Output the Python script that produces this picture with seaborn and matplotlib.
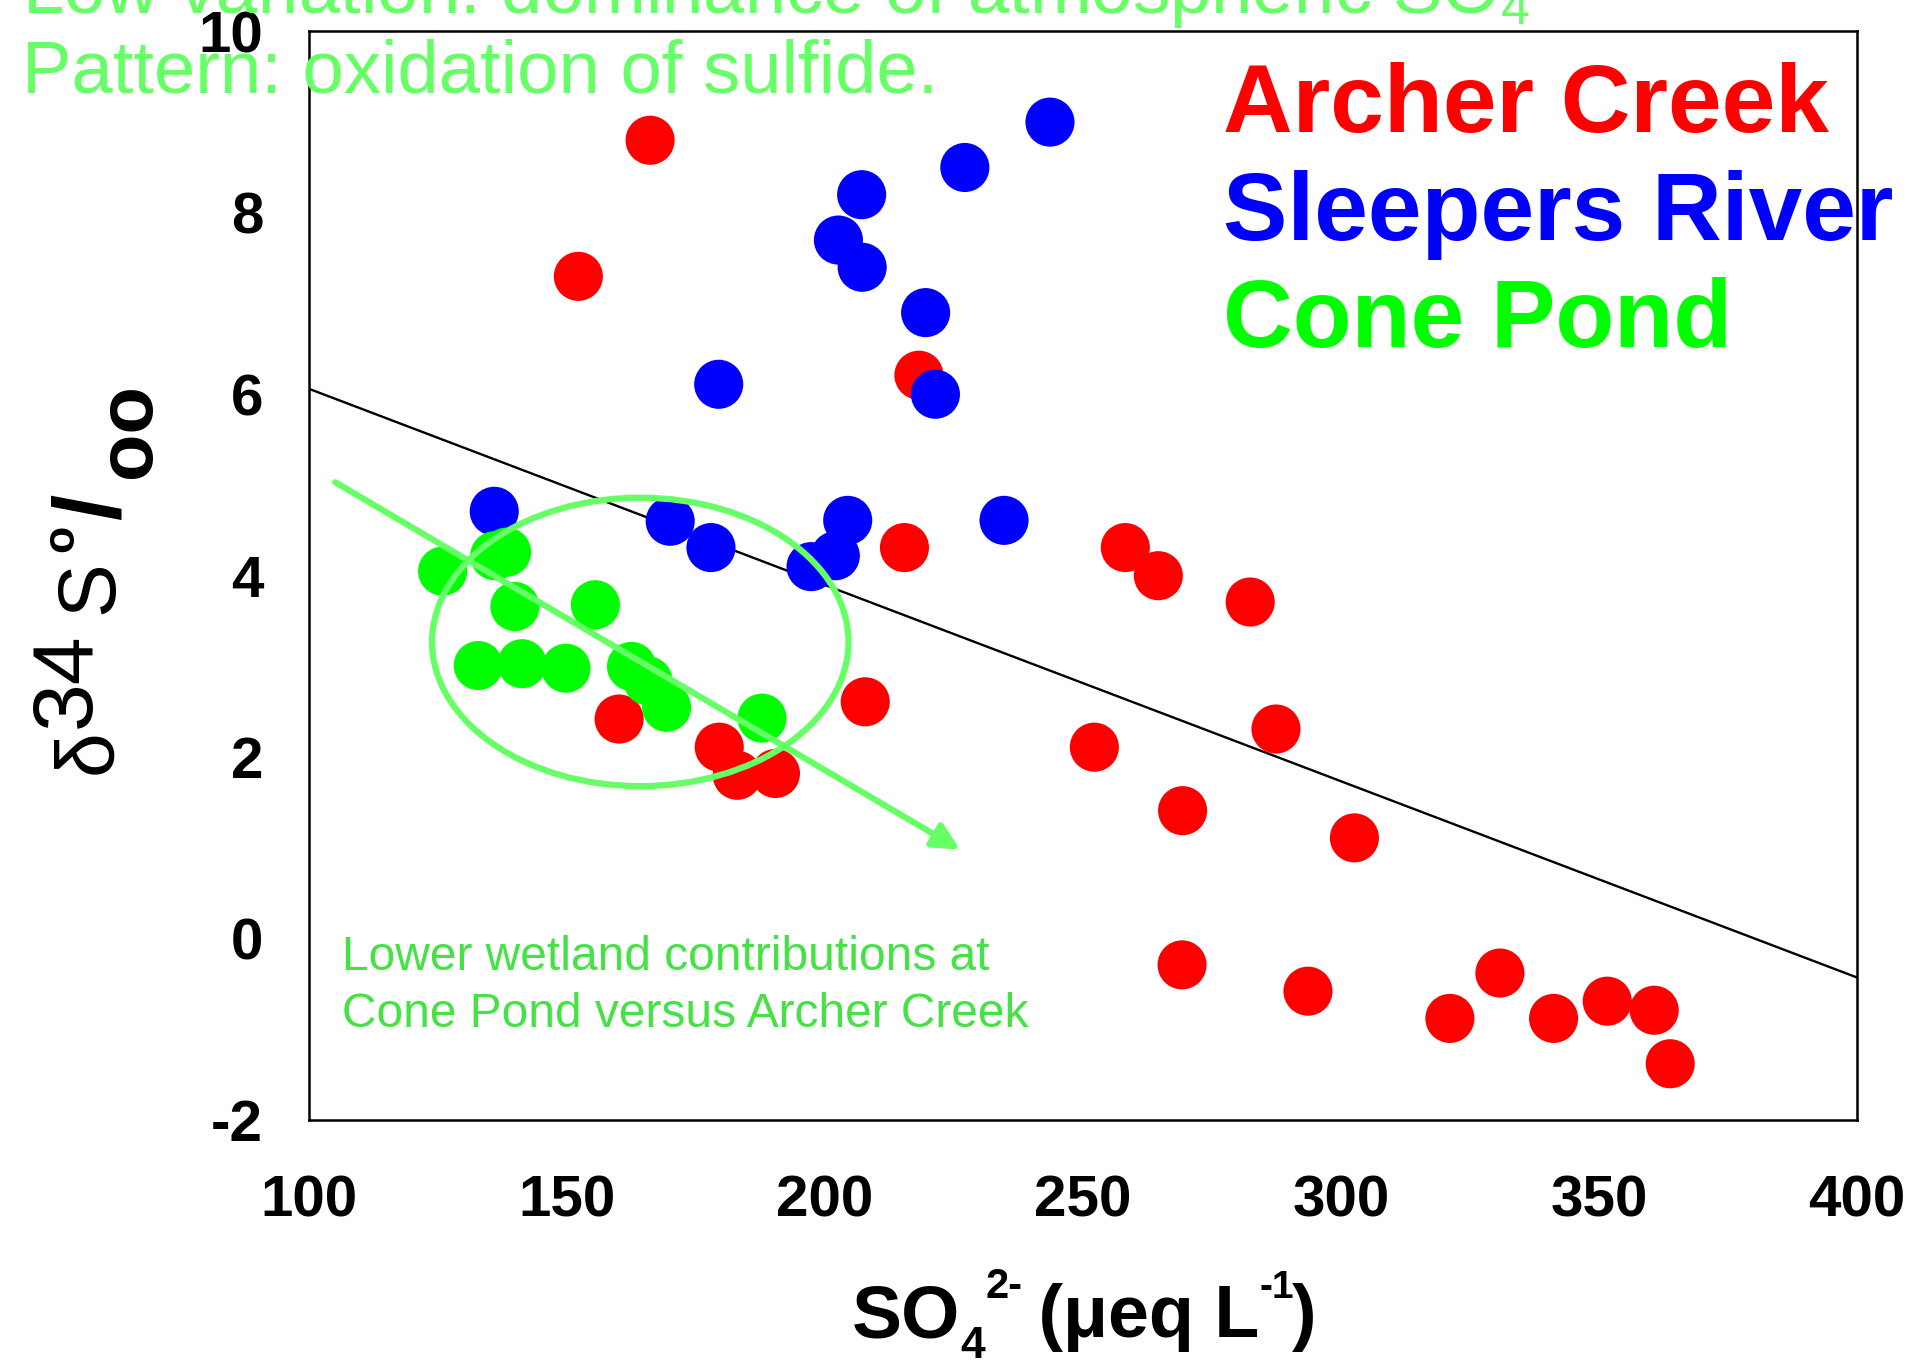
import matplotlib
matplotlib.use("Agg")
import matplotlib.pyplot as plt
from matplotlib.patches import Ellipse
import numpy as np
import pandas as pd
import seaborn as sns

# Stream sulfate concentration (ueq/L) and sulfur isotope ratio (per mil)
archer_so4 = [166.1, 152.2, 218.2, 215.4, 258.2, 264.6, 282.4, 207.8, 160.1, 179.5,
              183.0, 190.4, 252.2, 287.4, 269.3, 302.6, 269.2, 293.6, 321.1, 330.8,
              341.2, 351.6, 360.7, 363.8]
archer_d34s = [8.80, 7.30, 6.21, 4.31, 4.31, 4.00, 3.71, 2.61, 2.42, 2.11,
               1.80, 1.82, 2.11, 2.31, 1.41, 1.11, -0.29, -0.58, -0.88, -0.38,
               -0.88, -0.69, -0.79, -1.38]

sleepers_so4 = [243.6, 227.1, 207.1, 202.6, 207.2, 219.5, 179.4, 221.4, 135.9, 170.0,
                177.9, 204.4, 202.0, 197.3, 234.7]
sleepers_d34s = [9.00, 8.50, 8.20, 7.70, 7.40, 6.90, 6.11, 6.00, 4.71, 4.60,
                 4.31, 4.61, 4.22, 4.10, 4.61]

cone_so4 = [125.9, 136.0, 138.3, 139.9, 155.5, 132.8, 141.3, 149.8, 162.5, 165.7,
            169.3, 187.8]
cone_d34s = [4.05, 4.22, 4.26, 3.66, 3.68, 3.01, 3.03, 2.98, 3.00, 2.84,
             2.55, 2.43]

site_names = ["Archer Creek", "Sleepers River", "Cone Pond"]
site_colors = ["#ff0000", "#0000ff", "#00ff00"]

x_ticks = [100, 150, 200, 250, 300, 350, 400]
y_ticks = [-2, 0, 2, 4, 6, 8, 10]

# Overall trend line
trend_slope = -0.02163
trend_intercept = 8.223

# Highlighted Cone Pond cluster and the sulfide-oxidation direction
cluster_center = (164.2, 3.27)
cluster_width = 80.7
cluster_height = 3.18
pattern_start = (105.1, 5.03)
pattern_end = (226.2, 0.98)

ANNOT_GREEN = "#66ff66"
NOTE_GREEN = "#44e244"
FONT = "Liberation Sans"

sns.set_style("white")
plt.rcParams["font.family"] = [FONT, "DejaVu Sans"]
plt.rcParams["mathtext.fontset"] = "custom"
plt.rcParams["mathtext.rm"] = FONT
plt.rcParams["mathtext.it"] = FONT + ":italic"
plt.rcParams["mathtext.bf"] = FONT + ":bold"
plt.rcParams["axes.unicode_minus"] = False

df = pd.DataFrame({
    "so4": archer_so4 + sleepers_so4 + cone_so4,
    "d34s": archer_d34s + sleepers_d34s + cone_d34s,
    "site": ([site_names[0]] * len(archer_so4) + [site_names[1]] * len(sleepers_so4)
             + [site_names[2]] * len(cone_so4)),
})

W, H = 1920, 1362
fig = plt.figure(figsize=(W / 100, H / 100), dpi=100)
ax = fig.add_axes([309 / W, 1 - 1120 / H, 1548 / W, (1120 - 31.4) / H])

# Trend line behind the points
xs = np.array([x_ticks[0], x_ticks[-1]], dtype=float)
ax.plot(xs, trend_intercept + trend_slope * xs, color="black", lw=1.7, zorder=1)

sns.scatterplot(data=df, x="so4", y="d34s", hue="site", hue_order=site_names,
                palette=dict(zip(site_names, site_colors)), s=1250, linewidth=0,
                alpha=1, legend=False, ax=ax, zorder=3)

ax.add_patch(Ellipse(cluster_center, cluster_width, cluster_height, fill=False,
                     edgecolor=ANNOT_GREEN, lw=4.5, zorder=4))
ax.annotate("", xy=pattern_end, xytext=pattern_start,
            arrowprops=dict(arrowstyle="-|>", color=ANNOT_GREEN, lw=4.5,
                            mutation_scale=40, shrinkA=0, shrinkB=0),
            zorder=4)

ax.set_xlim(x_ticks[0], x_ticks[-1])
ax.set_ylim(y_ticks[0], y_ticks[-1])
ax.set_xticks(x_ticks)
ax.set_yticks(y_ticks)
ax.set_xlabel("")
ax.set_ylabel("")
ax.tick_params(axis="both", direction="out", length=13, width=1.8, labelsize=42,
               color="black", labelcolor="black")
ax.tick_params(axis="x", pad=26)
ax.tick_params(axis="y", pad=20)
for lab in ax.get_xticklabels() + ax.get_yticklabels():
    lab.set_fontweight("bold")
for sp in ax.spines.values():
    sp.set_visible(True)
    sp.set_color("black")
    sp.set_linewidth(1.8)
    sp.set_zorder(6)

# Site names
for name, color, yb in zip(site_names, site_colors, [8.894, 7.70, 6.524]):
    ax.text(277.1, yb, name, color=color, fontsize=69.5, fontweight="bold",
            va="baseline", ha="left", zorder=2, clip_on=False)

# Note on wetland contributions
ax.text(106.3, -0.348, "Lower wetland contributions at", color=NOTE_GREEN,
        fontsize=34.5, va="baseline", ha="left", zorder=2)
ax.text(106.3, -0.977, "Cone Pond versus Archer Creek", color=NOTE_GREEN,
        fontsize=34.5, va="baseline", ha="left", zorder=2)

# Header lines
fig.text(22 / W, 1 - 13 / H, "Low variation: dominance of atmospheric SO$_4$",
         color=ANNOT_GREEN, fontsize=53.5, va="baseline", ha="left")
fig.text(22 / W, 1 - 92.7 / H, "Pattern: oxidation of sulfide.",
         color=ANNOT_GREEN, fontsize=53.5, va="baseline", ha="left")

# Y axis label, built from pieces (rotated)
ylab_parts = [
    ("\u03b4", 58, "normal", 110, 774),
    ("34", 62, "normal", 90, 728),
    ("S", 58, "normal", 112, 614),
    ("o", 32, "bold", 73, 552),
    ("/", 68, "bold", 120, 520),
    ("oo", 56, "bold", 150, 478),
]
for txt, size, weight, xb, ystart in ylab_parts:
    fig.text(xb / W, 1 - ystart / H, txt, fontsize=size, fontweight=weight,
             rotation=90, rotation_mode="anchor", ha="left", va="baseline",
             color="black")

# X axis label, laid out piece by piece
renderer = fig.canvas.get_renderer()
xlab_parts = [
    ("SO", 54, 1337, 0),
    ("4", 32, 1358, 0),
    ("2-", 30, 1298, 0),
    (" (\u03bceq L", 53, 1337, -4),
    ("-1", 28, 1298, 0),
    (")", 53, 1337, -2),
]
xpos = 852
for txt, size, yb, shift in xlab_parts:
    t = fig.text((xpos + shift) / W, 1 - yb / H, txt, fontsize=size, fontweight="bold",
                 ha="left", va="baseline", color="black")
    xpos = t.get_window_extent(renderer).x1

fig.savefig("out.png", dpi=100, facecolor="white")
